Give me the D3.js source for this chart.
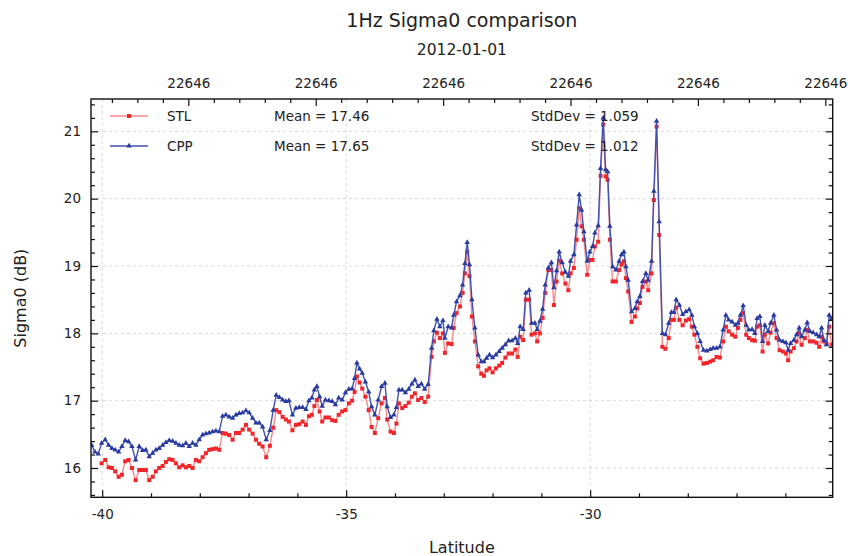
<!DOCTYPE html>
<html>
<head>
<meta charset="utf-8">
<script src="https://cdn.jsdelivr.net/npm/d3@7"></script>
<style>
  html, body { margin: 0; padding: 0; background: #fff; }
  svg text { font-family: "DejaVu Sans", sans-serif; fill: #222; }
</style>
</head>
<body>
<svg id="chart" width="848" height="556"></svg>
<script>
// ---------------- data ----------------
const latitude = [
-40.217,-40.150,-40.082,-40.012,-39.939,-39.869,-39.801,-39.734,-39.664,-39.596,
-39.529,-39.459,-39.391,-39.316,-39.242,-39.172,-39.105,-39.037,-38.967,-38.900,
-38.832,-38.762,-38.695,-38.627,-38.557,-38.490,-38.422,-38.352,-38.285,-38.217,
-38.148,-38.080,-38.012,-37.943,-37.875,-37.807,-37.738,-37.670,-37.602,-37.533,
-37.465,-37.398,-37.328,-37.260,-37.193,-37.123,-37.055,-36.988,-36.918,-36.850,
-36.783,-36.713,-36.639,-36.564,-36.496,-36.434,-36.369,-36.303,-36.236,-36.174,
-36.102,-36.031,-35.963,-35.893,-35.826,-35.764,-35.703,-35.652,-35.600,-35.545,
-35.492,-35.426,-35.355,-35.287,-35.221,-35.154,-35.084,-35.016,-34.945,-34.879,
-34.828,-34.781,-34.725,-34.672,-34.607,-34.539,-34.480,-34.412,-34.344,-34.275,
-34.207,-34.160,-34.090,-34.023,-33.971,-33.920,-33.852,-33.787,-33.719,-33.654,
-33.592,-33.525,-33.459,-33.391,-33.320,-33.250,-33.203,-33.141,-33.080,-33.018,
-32.977,-32.910,-32.840,-32.797,-32.738,-32.670,-32.615,-32.568,-32.520,-32.473,
-32.424,-32.363,-32.295,-32.232,-32.178,-32.123,-32.064,-32.000,-31.932,-31.865,
-31.805,-31.738,-31.670,-31.600,-31.533,-31.486,-31.434,-31.373,-31.318,-31.250,
-31.201,-31.133,-31.086,-31.031,-30.975,-30.922,-30.857,-30.795,-30.744,-30.689,
-30.635,-30.574,-30.508,-30.447,-30.402,-30.334,-30.279,-30.225,-30.176,-30.129,
-30.061,-30.006,-29.951,-29.904,-29.836,-29.787,-29.734,-29.684,-29.643,-29.596,
-29.541,-29.473,-29.406,-29.357,-29.309,-29.268,-29.221,-29.152,-29.084,-29.037,
-28.982,-28.926,-28.859,-28.811,-28.742,-28.695,-28.639,-28.586,-28.520,-28.459,
-28.391,-28.336,-28.285,-28.238,-28.172,-28.105,-28.039,-27.971,-27.916,-27.865,
-27.803,-27.746,-27.678,-27.609,-27.541,-27.480,-27.410,-27.342,-27.275,-27.219,
-27.162,-27.092,-27.025,-26.973,-26.922,-26.865,-26.803,-26.748,-26.682,-26.625,
-26.578,-26.523,-26.467,-26.420,-26.352,-26.303,-26.236,-26.180,-26.119,-26.051,
-25.990,-25.943,-25.893,-25.826,-25.770,-25.717,-25.668,-25.600,-25.553,-25.498,
-25.430,-25.361,-25.307,-25.258,-25.211,-25.156,-25.102,-25.053
];

const cppSigma0 = [
16.34,16.24,16.21,16.37,16.42,16.34,16.29,16.27,16.24,16.32,
16.41,16.39,16.32,16.12,16.32,16.26,16.27,16.17,16.22,16.27,
16.29,16.34,16.38,16.41,16.40,16.37,16.34,16.33,16.37,16.32,
16.37,16.34,16.42,16.49,16.51,16.52,16.54,16.55,16.54,16.77,
16.79,16.76,16.74,16.79,16.81,16.82,16.85,16.82,16.74,16.67,
16.67,16.61,16.42,16.56,16.86,17.08,17.05,17.01,16.99,17.00,
16.79,16.89,16.90,16.90,16.87,17.00,17.04,17.16,17.21,17.06,
16.92,17.01,17.00,16.99,16.94,17.04,17.01,17.12,17.17,17.18,
17.33,17.56,17.47,17.41,17.28,17.13,16.91,16.79,17.01,17.21,
17.26,16.91,16.75,16.79,16.90,17.16,17.16,17.12,17.17,17.25,
17.31,17.21,17.25,17.17,17.24,17.78,18.04,18.21,18.10,18.19,
17.93,18.10,18.08,18.27,18.47,18.56,18.72,19.04,19.35,19.02,
18.50,18.08,17.68,17.58,17.58,17.63,17.68,17.64,17.68,17.73,
17.78,17.83,17.89,17.89,17.93,17.85,18.10,18.06,18.60,18.64,
18.15,18.15,18.06,18.18,18.36,18.72,18.97,19.05,18.68,18.93,
19.21,19.05,18.91,18.85,19.07,19.17,19.61,20.06,19.83,19.51,
19.07,19.21,19.29,19.49,19.60,20.45,21.20,20.43,20.40,19.59,
18.99,18.94,19.07,19.17,19.21,18.99,18.79,18.32,18.37,18.47,
18.55,18.77,18.89,18.79,19.07,20.11,21.15,19.66,18.00,17.98,
18.15,18.31,18.31,18.50,18.42,18.28,18.32,18.35,18.27,18.10,
18.00,17.88,17.75,17.74,17.76,17.78,17.78,17.80,18.05,18.27,
18.20,18.17,18.12,18.15,18.27,18.41,18.12,18.05,18.06,18.00,
18.22,18.25,17.88,18.12,18.03,18.15,18.27,18.05,17.90,17.88,
17.86,17.75,17.85,17.90,17.98,18.08,17.95,18.05,18.16,18.03,
18.01,17.98,17.95,18.08,17.90,17.83,18.27,18.21
];

const stlSigma0 = [
null,null,null,16.07,16.12,16.01,16.00,15.95,15.87,15.90,
16.10,16.12,16.00,15.82,15.97,15.97,15.97,15.82,15.87,15.95,
16.00,16.03,16.09,16.13,16.12,16.07,16.01,16.04,16.01,16.03,
16.00,16.12,16.10,16.16,16.22,16.27,16.28,16.29,16.27,16.52,
16.51,16.49,16.42,16.52,16.52,16.57,16.64,16.57,16.51,16.42,
16.36,16.32,16.16,16.33,16.60,16.86,16.83,16.76,16.72,16.69,
16.56,16.64,16.65,16.69,16.64,16.77,16.79,16.92,17.01,16.84,
16.69,16.75,16.75,16.71,16.70,16.79,16.84,16.86,16.96,17.00,
17.13,17.36,17.27,17.18,17.06,16.86,16.61,16.52,16.74,16.96,
17.04,16.72,16.54,16.52,16.66,16.96,16.89,16.92,16.97,17.06,
17.11,17.01,17.04,16.98,17.06,17.65,17.88,18.01,17.93,18.00,
17.71,17.85,17.84,18.08,18.30,18.40,18.60,18.89,19.21,18.85,
18.25,17.88,17.51,17.40,17.37,17.45,17.48,17.42,17.48,17.52,
17.56,17.64,17.70,17.70,17.76,17.65,17.95,17.90,18.50,18.50,
17.98,18.00,17.88,18.00,18.23,18.60,18.94,18.94,18.42,18.77,
19.08,18.89,18.74,18.64,18.89,18.97,19.39,19.86,19.59,19.39,
18.87,19.09,19.09,19.29,19.36,20.34,21.10,20.33,20.28,19.39,
18.77,18.77,18.94,19.02,19.07,18.82,18.62,18.17,18.25,18.37,
18.45,18.69,18.77,18.64,18.89,19.98,21.07,19.46,17.80,17.77,
17.93,18.20,18.20,18.38,18.20,18.12,18.19,18.21,18.10,17.98,
17.80,17.63,17.55,17.56,17.58,17.60,17.65,17.64,17.88,18.10,
18.03,17.98,17.95,18.08,18.20,18.30,17.98,17.93,17.90,17.89,
18.10,18.12,17.73,17.98,17.85,18.01,18.15,17.93,17.75,17.73,
17.70,17.60,17.73,17.78,17.88,18.00,17.83,17.93,18.05,17.88,
17.88,17.86,17.80,17.95,17.88,17.85,18.10,17.83
];

const seriesNames = ["STL", "CPP"];
const seriesMeans = ["Mean = 17.46", "Mean = 17.65"];
const seriesStdDevs = ["StdDev = 1.059", "StdDev = 1.012"];

const xMajorTicks = [-40, -35, -30];
const yMajorTicks = [16, 17, 18, 19, 20, 21];
const topTickLabels = ["22646", "22646", "22646", "22646", "22646", "22646"];
const titleText = "1Hz Sigma0 comparison";
const subtitleText = "2012-01-01";
const xLabel = "Latitude";
const yLabel = "Sigma0 (dB)";

// ---------------- layout ----------------
const svg = d3.select("#chart");
const L = 91, R = 832.7, T = 99, B = 497.3;

const x = d3.scaleLinear().domain([-40.23, -25.03]).range([L, R]);
const y = d3.scaleLinear().domain([15.565, 21.48]).range([B, T]);
const xTop = d3.scaleLinear().domain([-0.764, 5.058]).range([L, R]);

const stlColor = "#f0262b", stlLine = "#f58a8d";
const cppColor = "#2a3b9f", cppLine = "#3f50b0";

// grid
const grid = svg.append("g");
grid.selectAll("line.gy").data(yMajorTicks).join("line")
  .attr("x1", L).attr("x2", R).attr("y1", d => y(d)).attr("y2", d => y(d))
  .attr("stroke", "#cfcfcf").attr("stroke-width", 0.8).attr("stroke-dasharray", "3,3");
grid.selectAll("line.gx").data(xMajorTicks).join("line")
  .attr("y1", T).attr("y2", B).attr("x1", d => x(d)).attr("x2", d => x(d))
  .attr("stroke", "#cfcfcf").attr("stroke-width", 0.8).attr("stroke-dasharray", "3,3");

// clip
svg.append("clipPath").attr("id", "clip").append("rect")
  .attr("x", L).attr("y", T).attr("width", R - L).attr("height", B - T);
const plot = svg.append("g").attr("clip-path", "url(#clip)");

const stlData = latitude.map((d, i) => ({lat: d, v: stlSigma0[i]})).filter(d => d.v !== null);
const cppData = latitude.map((d, i) => ({lat: d, v: cppSigma0[i]})).filter(d => d.v !== null);

const line = d3.line().x(d => x(d.lat)).y(d => y(d.v));

plot.append("path").datum(stlData).attr("d", line)
  .attr("fill", "none").attr("stroke", stlLine).attr("stroke-width", 1.4);
plot.selectAll("rect.stl").data(stlData).join("rect")
  .attr("x", d => x(d.lat) - 2).attr("y", d => y(d.v) - 2)
  .attr("width", 4).attr("height", 4).attr("fill", stlColor);

plot.append("path").datum(cppData).attr("d", line)
  .attr("fill", "none").attr("stroke", cppLine).attr("stroke-width", 1.4);
const tri = d3.symbol().type(d3.symbolTriangle).size(13);
plot.selectAll("path.cpp").data(cppData).join("path")
  .attr("d", tri)
  .attr("transform", d => `translate(${x(d.lat)},${y(d.v)})`)
  .attr("fill", cppColor);

// axes
function styleAxis(g, fs) {
  g.select(".domain").remove();
  g.selectAll(".tick line").attr("stroke", "#111").attr("stroke-width", 1.2);
  g.selectAll(".tick text").attr("font-size", fs).attr("fill", "#222")
    .attr("font-family", "DejaVu Sans, sans-serif");
}
const range = (a, b, s) => { const r = []; for (let v = a; v <= b + 1e-9; v += s) r.push(+v.toFixed(4)); return r; };

// bottom
const xMinor = range(-40, -25, 1).filter(v => !xMajorTicks.includes(v) && v > -40.23 && v < -25.03);
svg.append("g").attr("transform", `translate(0,${B})`)
  .call(d3.axisBottom(x).tickValues(xMinor).tickSize(-4).tickFormat(""))
  .call(g => styleAxis(g, 13.5));
svg.append("g").attr("transform", `translate(0,${B})`)
  .call(d3.axisBottom(x).tickValues(xMajorTicks).tickSize(-7).tickPadding(12).tickFormat(d => String(d)))
  .call(g => styleAxis(g, 13.5));

// top
const topMinor = range(-0.6, 5.0, 0.2).filter(v => Math.abs(v - Math.round(v)) > 1e-6);
svg.append("g").attr("transform", `translate(0,${T})`)
  .call(d3.axisTop(xTop).tickValues(topMinor).tickSize(-4).tickFormat(""))
  .call(g => styleAxis(g, 13.5));
svg.append("g").attr("transform", `translate(0,${T})`)
  .call(d3.axisTop(xTop).tickValues(d3.range(topTickLabels.length)).tickSize(-7).tickPadding(11)
    .tickFormat((d, i) => topTickLabels[i]))
  .call(g => styleAxis(g, 13.5));

// left / right
const yMinor = range(15.6, 21.4, 0.2).filter(v => Math.abs(v - Math.round(v)) > 1e-6);
svg.append("g").attr("transform", `translate(${L},0)`)
  .call(d3.axisLeft(y).tickValues(yMinor).tickSize(-4).tickFormat(""))
  .call(g => styleAxis(g, 13.5));
svg.append("g").attr("transform", `translate(${L},0)`)
  .call(d3.axisLeft(y).tickValues(yMajorTicks).tickSize(-7).tickPadding(10).tickFormat(d => String(d)))
  .call(g => styleAxis(g, 13.5));
svg.append("g").attr("transform", `translate(${R},0)`)
  .call(d3.axisRight(y).tickValues(yMinor).tickSize(-4).tickFormat(""))
  .call(g => styleAxis(g, 13.5));
svg.append("g").attr("transform", `translate(${R},0)`)
  .call(d3.axisRight(y).tickValues(yMajorTicks).tickSize(-7).tickFormat(""))
  .call(g => styleAxis(g, 13.5));

// frame
svg.append("rect").attr("x", L).attr("y", T).attr("width", R - L).attr("height", B - T)
  .attr("fill", "none").attr("stroke", "#111").attr("stroke-width", 1.4);

// legend
const legendRows = [
  {name: seriesNames[0], mean: seriesMeans[0], sd: seriesStdDevs[0], line: stlLine, color: stlColor, sym: "sq"},
  {name: seriesNames[1], mean: seriesMeans[1], sd: seriesStdDevs[1], line: cppLine, color: cppColor, sym: "tri"}
];
const lg = svg.append("g");
legendRows.forEach((r, i) => {
  const yy = 116 + i * 30;
  lg.append("line").attr("x1", 110).attr("x2", 148).attr("y1", yy).attr("y2", yy)
    .attr("stroke", r.line).attr("stroke-width", 1.3);
  if (r.sym === "sq") {
    lg.append("rect").attr("x", 129 - 2).attr("y", yy - 2).attr("width", 4).attr("height", 4).attr("fill", r.color);
  } else {
    lg.append("path").attr("d", tri).attr("transform", `translate(129,${yy})`).attr("fill", r.color);
  }
  lg.append("text").attr("x", 167).attr("y", yy + 5).attr("font-size", 13.5).text(r.name);
  lg.append("text").attr("x", 274).attr("y", yy + 5).attr("font-size", 13.5).text(r.mean);
  lg.append("text").attr("x", 531).attr("y", yy + 5).attr("font-size", 13.5).text(r.sd);
});

// titles
const cx = (L + R) / 2;
svg.append("text").attr("x", cx).attr("y", 27).attr("text-anchor", "middle")
  .attr("font-size", 19).text(titleText);
svg.append("text").attr("x", cx).attr("y", 55).attr("text-anchor", "middle")
  .attr("font-size", 15.5).text(subtitleText);
svg.append("text").attr("x", cx).attr("y", 553).attr("text-anchor", "middle")
  .attr("font-size", 16).text(xLabel);
svg.append("text").attr("transform", `translate(26,${(T + B) / 2}) rotate(-90)`)
  .attr("text-anchor", "middle").attr("font-size", 16).text(yLabel);
</script>
</body>
</html>
